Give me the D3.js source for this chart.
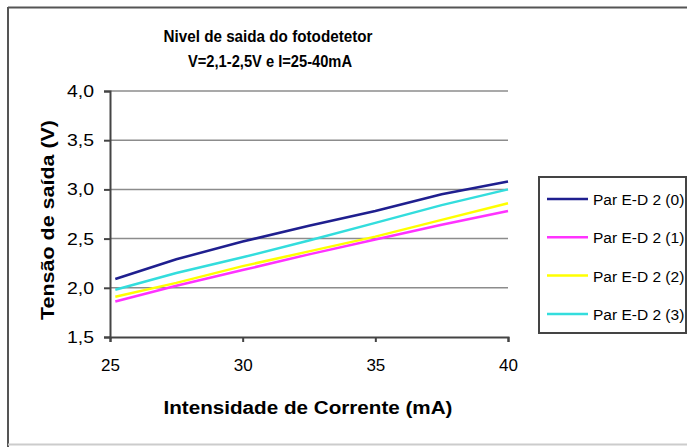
<!DOCTYPE html>
<html>
<head>
<meta charset="utf-8">
<script src="https://cdn.jsdelivr.net/npm/d3@7.9.0/dist/d3.min.js"></script>
<style>
  body { margin: 0; background: #fff; }
  svg { display: block; }
  text { fill: #000; }
</style>
</head>
<body>
<svg id="chart" width="687" height="447"></svg>
<script>
const current = [25.2, 27.5, 30, 32.5, 35, 37.5, 40];
const seriesNames = ["Par E-D 2 (0)", "Par E-D 2 (1)", "Par E-D 2 (2)", "Par E-D 2 (3)"];
const par0 = [2.09, 2.29, 2.47, 2.63, 2.78, 2.95, 3.08];
const par1 = [1.86, 2.02, 2.18, 2.34, 2.49, 2.64, 2.78];
const par2 = [1.91, 2.05, 2.22, 2.37, 2.52, 2.69, 2.86];
const par3 = [1.98, 2.15, 2.31, 2.48, 2.66, 2.84, 3.0];
const colors = ["#1f1f8f", "#ff33ff", "#ffff00", "#33dddd"];
const xTicks = [25, 30, 35, 40];
const yTicks = [1.5, 2.0, 2.5, 3.0, 3.5, 4.0];

const svg = d3.select("#chart");
const font = "'Liberation Sans', Arial, sans-serif";

// outer frame
svg.append("line").attr("x1", 8).attr("x2", 687).attr("y1", 7.5).attr("y2", 7.5)
  .attr("stroke", "#555").attr("stroke-width", 2);
svg.append("line").attr("x1", 8).attr("x2", 8).attr("y1", 7).attr("y2", 447)
  .attr("stroke", "#555").attr("stroke-width", 2);
svg.append("line").attr("x1", 8).attr("x2", 687).attr("y1", 444.5).attr("y2", 444.5)
  .attr("stroke", "#ccc").attr("stroke-width", 2);

const x = d3.scaleLinear().domain([25, 40]).range([110, 508]);
const y = d3.scaleLinear().domain([1.5, 4.0]).range([337, 91]);

// gridlines
svg.append("g").selectAll("line").data(yTicks.slice(1)).join("line")
  .attr("x1", x(25)).attr("x2", x(40))
  .attr("y1", d => y(d)).attr("y2", d => y(d))
  .attr("stroke", "#8c8c8c").attr("stroke-width", 1.5);

const fmt = d => d.toFixed(1).replace(".", ",");

const yAxis = svg.append("g").attr("transform", `translate(${x(25)},0)`)
  .call(d3.axisLeft(y).tickValues(yTicks).tickFormat(fmt).tickSize(6).tickPadding(10));
const xAxis = svg.append("g").attr("transform", `translate(0,${y(1.5)})`)
  .call(d3.axisBottom(x).tickValues(xTicks).tickFormat(d3.format("d")).tickSize(5).tickPadding(17));
[yAxis, xAxis].forEach(a => {
  a.select(".domain").attr("stroke", "#444").attr("stroke-width", 2);
  a.selectAll(".tick line").attr("stroke", "#444").attr("stroke-width", 2);
  a.selectAll(".tick text").attr("font-family", font).attr("font-size", 17).attr("fill", "#222");
});
yAxis.selectAll(".tick text").attr("textLength", 27).attr("lengthAdjust", "spacingAndGlyphs");

const allSeries = [par0, par1, par2, par3];
const line = d3.line().x((d, i) => x(current[i])).y(d => y(d));
svg.append("g").selectAll("path").data(allSeries).join("path")
  .attr("d", line).attr("fill", "none")
  .attr("stroke", (d, i) => colors[i]).attr("stroke-width", 2.5);

// titles
function label(txt, tx, ty, len, size, rot) {
  svg.append("text")
    .attr("transform", `translate(${tx},${ty})` + (rot ? " rotate(-90)" : ""))
    .attr("text-anchor", "middle")
    .attr("font-family", font).attr("font-weight", "bold").attr("font-size", size)
    .attr("textLength", len).attr("lengthAdjust", "spacingAndGlyphs")
    .text(txt);
}
label("Nivel de saida do fotodetetor", 268, 42, 209, 17);
label("V=2,1-2,5V e I=25-40mA", 270, 67, 164, 17);
label("Intensidade de Corrente (mA)", 308, 414, 289, 18);
label("Tensão de saída (V)", 54, 220, 200, 18, true);

// legend
const legend = svg.append("g");
legend.append("rect").attr("x", 539).attr("y", 177).attr("width", 147).attr("height", 156)
  .attr("fill", "#fff").attr("stroke", "#444").attr("stroke-width", 2);
const rows = legend.selectAll("g.row").data(seriesNames).join("g")
  .attr("transform", (d, i) => `translate(0,${199 + i * 38.3})`);
rows.append("line").attr("x1", 547).attr("x2", 588).attr("y1", 0).attr("y2", 0)
  .attr("stroke", (d, i) => colors[i]).attr("stroke-width", 2.5);
rows.append("text").attr("x", 593).attr("y", 6)
  .attr("font-family", font).attr("font-size", 15.5).attr("fill", "#222")
  .text(d => d);
</script>
</body>
</html>
